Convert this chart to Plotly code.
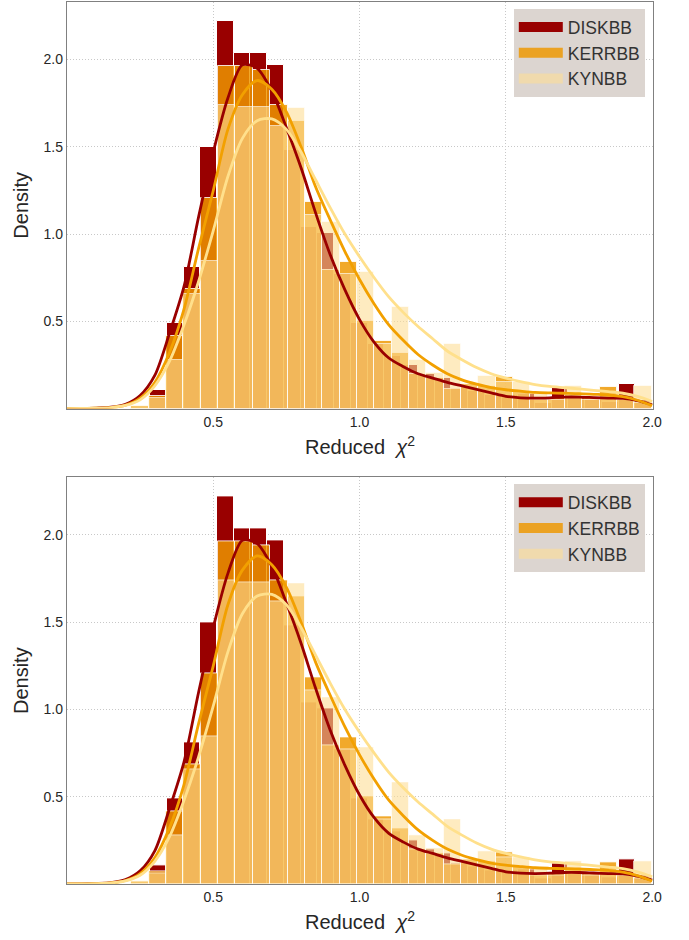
import plotly.graph_objects as go
from plotly.subplots import make_subplots

# ---- histogram data (density per bin, 30 bins per model) ----
models = ["DISKBB", "KERRBB", "KYNBB"]

bin_start = {"DISKBB": 0.284, "KERRBB": 0.220, "KYNBB": 0.220}
bin_width = {"DISKBB": 0.0572, "KERRBB": 0.0593, "KYNBB": 0.0593}

diskbb_density = [0.104, 0.493, 0.81, 1.50, 2.219, 2.04, 2.04, 1.971, 1.48, 1.04,
                  1.005, 0.77, 0.49, 0.37, 0.30, 0.25, 0.20, 0.175, 0.12, 0.10,
                  0.08, 0.08, 0.085, 0.03, 0.118, 0.06, 0.05, 0.04, 0.141, 0.05]
kerrbb_density = [0.017, 0.07, 0.417, 0.684, 1.205, 1.962, 1.962, 1.943, 1.742, 1.65,
                  1.185, 0.795, 0.842, 0.50, 0.385, 0.32, 0.20, 0.175, 0.11, 0.14,
                  0.13, 0.179, 0.10, 0.05, 0.06, 0.08, 0.06, 0.124, 0.05, 0.03]
kynbb_density = [0.017, 0.06, 0.28, 0.655, 0.846, 1.742, 1.73, 1.73, 1.62, 1.72,
                 1.109, 1.07, 0.77, 0.785, 0.37, 0.58, 0.28, 0.204, 0.371, 0.142,
                 0.184, 0.15, 0.152, 0.098, 0.05, 0.131, 0.05, 0.08, 0.05, 0.131]

# ---- kernel density estimates on a fixed grid ----
kde_x = [0.00, 0.05, 0.10, 0.15, 0.20, 0.25, 0.30, 0.35, 0.40, 0.45,
         0.50, 0.55, 0.60, 0.65, 0.70, 0.75, 0.80, 0.85, 0.90, 0.95,
         1.00, 1.05, 1.10, 1.15, 1.20, 1.25, 1.30, 1.35, 1.40, 1.45,
         1.50, 1.55, 1.60, 1.65, 1.70, 1.75, 1.80, 1.85, 1.90, 1.95, 2.00]
diskbb_kde = [0.0, 0.0005, 0.003, 0.008, 0.025, 0.075, 0.19, 0.43, 0.70, 1.10,
              1.47, 1.78, 1.97, 1.95, 1.82, 1.61, 1.38, 1.12, 0.88, 0.68,
              0.51, 0.38, 0.29, 0.24, 0.20, 0.175, 0.15, 0.13, 0.11, 0.09,
              0.07, 0.062, 0.06, 0.062, 0.066, 0.066, 0.063, 0.06, 0.058, 0.045, 0.022]
kerrbb_kde = [0.0, 0.0005, 0.002, 0.006, 0.02, 0.06, 0.15, 0.32, 0.57, 0.92,
              1.25, 1.60, 1.80, 1.88, 1.83, 1.70, 1.50, 1.27, 1.08, 0.90,
              0.74, 0.60, 0.48, 0.39, 0.31, 0.25, 0.20, 0.165, 0.14, 0.12,
              0.108, 0.10, 0.093, 0.09, 0.088, 0.086, 0.082, 0.078, 0.068, 0.048, 0.017]
kynbb_kde = [0.0, 0.0005, 0.002, 0.006, 0.018, 0.05, 0.13, 0.27, 0.48, 0.73,
             1.02, 1.33, 1.55, 1.65, 1.66, 1.60, 1.47, 1.31, 1.15, 1.00,
             0.87, 0.75, 0.64, 0.55, 0.47, 0.40, 0.33, 0.28, 0.235, 0.20,
             0.175, 0.155, 0.138, 0.127, 0.12, 0.113, 0.105, 0.097, 0.088, 0.07, 0.041]

x_ticks = [0.5, 1.0, 1.5, 2.0]
x_tick_text = ["0.5", "1.0", "1.5", "2.0"]
y_ticks = [0.5, 1.0, 1.5, 2.0]
y_tick_text = ["0.5", "1.0", "1.5", "2.0"]

densities = {"DISKBB": diskbb_density, "KERRBB": kerrbb_density, "KYNBB": kynbb_density}
kdes = {"DISKBB": diskbb_kde, "KERRBB": kerrbb_kde, "KYNBB": kynbb_kde}

# ---- styling ----
bar_rgb = {"DISKBB": (153, 0, 0), "KERRBB": (238, 152, 0), "KYNBB": (253, 222, 150)}
bar_alpha = {"DISKBB": 1.0, "KERRBB": 0.83, "KYNBB": 0.6}
kde_color = {"DISKBB": "#990000", "KERRBB": "#F2A000", "KYNBB": "#FFE08C"}

FONT = "Liberation Sans, Arial, Helvetica, sans-serif"
TEXT = "#262626"


def rgba(rgb, a):
    return f"rgba({rgb[0]},{rgb[1]},{rgb[2]},{a})"


fig = make_subplots(rows=2, cols=1, vertical_spacing=0.078)

for row in (1, 2):
    legend_name = "legend" if row == 1 else "legend2"
    # histograms
    for m in models:
        vals = densities[m]
        w = bin_width[m]
        centers = [bin_start[m] + (i + 0.5) * w for i in range(len(vals))]
        fig.add_trace(
            go.Bar(
                x=centers, y=vals, width=w,
                marker=dict(color=rgba(bar_rgb[m], bar_alpha[m]),
                            line=dict(color=rgba((255, 255, 255), bar_alpha[m]), width=1)),
                showlegend=False, hoverinfo="skip",
            ),
            row=row, col=1,
        )
    # KDE curves
    for m in models:
        fig.add_trace(
            go.Scatter(
                x=kde_x, y=kdes[m], mode="lines",
                line=dict(color=kde_color[m], width=2.8, shape="spline", smoothing=0.8),
                showlegend=False, hoverinfo="skip",
            ),
            row=row, col=1,
        )
    # legend patches
    for m in models:
        fig.add_trace(
            go.Scatter(
                x=[None], y=[None], mode="lines", name=m,
                line=dict(color=rgba(bar_rgb[m], bar_alpha[m]), width=12),
                legend=legend_name,
            ),
            row=row, col=1,
        )

axis_common = dict(
    showline=True, mirror=True, linecolor="#808080", linewidth=1.3,
    showgrid=True, gridcolor="#c8c8c8", griddash="1px,2px", gridwidth=0.8,
    zeroline=False, ticks="",
    tickfont=dict(family=FONT, size=14, color=TEXT),
)

for row in (1, 2):
    fig.update_xaxes(
        range=[0.0, 2.003], tickvals=x_ticks, ticktext=x_tick_text,
        title=dict(text="Reduced  <i>χ</i><sup>2</sup>",
                   font=dict(family=FONT, size=20, color=TEXT), standoff=11),
        row=row, col=1, **axis_common,
    )
    fig.update_yaxes(
        range=[0.0, 2.33], tickvals=y_ticks, ticktext=y_tick_text,
        title=dict(text="Density", font=dict(family=FONT, size=20, color=TEXT), standoff=9),
        row=row, col=1, **axis_common,
    )

legend_common = dict(
    xanchor="right", yanchor="top", bgcolor="#DCD5D0",
    font=dict(family=FONT, size=17.5, color="#333333"),
    borderwidth=0, itemwidth=44,
)

fig.update_layout(
    width=689, height=940,
    margin=dict(l=67, r=36, t=2, b=56),
    barmode="overlay", bargap=0,
    plot_bgcolor="white", paper_bgcolor="white",
    legend=dict(x=0.986, y=0.992, **legend_common),
    legend2=dict(x=0.986, y=0.453, **legend_common),
)

fig.write_html("out.html")
